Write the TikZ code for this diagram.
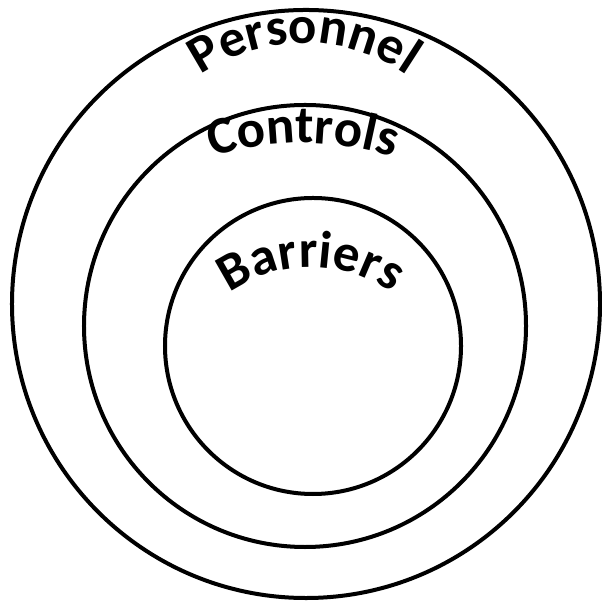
\documentclass[tikz,border=0pt]{standalone}
\usepackage{fontspec}
\setmainfont{Carlito}
\usetikzlibrary{decorations.text}

\newcommand\arcfont{\bfseries\fontsize{26.5}{31}\selectfont}

\begin{document}
\begin{tikzpicture}[
    x=0.5bp, y=0.5bp,
    ring/.style={
        circle,
        draw,
        line width=2bp,
        inner sep=0pt
    },
    arctext/.style={
        decorate,
        decoration={text along path, text align=center, text={|\arcfont|#1}}
    }
]

\useasboundingbox (0,0) rectangle (602,601);

\node[ring, minimum size=294bp] (personnel) at (306,297) {};
\node[ring, minimum size=221bp] (controls) at (305,275) {};
\node[ring, minimum size=148bp] (barriers) at (313,255) {};

\path[arctext=Personnel] (304,378) ++(140:180) arc[start angle=140, end angle=40, radius=180];
\path[arctext=Controls] (303,158) ++(112:300) arc[start angle=112, end angle=68, radius=300];
\path[arctext=Barriers] (311,196) ++(140:138) arc[start angle=140, end angle=40, radius=138];

\end{tikzpicture}
\end{document}
